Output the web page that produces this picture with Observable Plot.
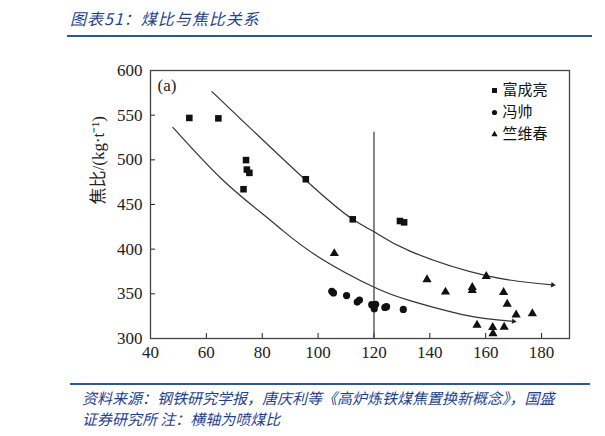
<!DOCTYPE html>
<html><head><meta charset="utf-8">
<script src="https://cdn.jsdelivr.net/npm/d3@7"></script>
<script src="https://cdn.jsdelivr.net/npm/@observablehq/plot@0.6"></script>
<style>
body{margin:0;width:605px;height:436px;background:#fff;position:relative;overflow:hidden;font-family:"Noto Sans CJK SC",sans-serif}
#title{position:absolute;left:70px;top:6px;font-size:16px;font-style:italic;color:#1f3f8f;letter-spacing:1px;white-space:nowrap}
#rule1{position:absolute;left:67px;top:35px;width:525px;height:2px;background:#2b55a6}
#chart{position:absolute;left:0;top:40px}
#rule2{position:absolute;left:70px;top:383px;width:520px;height:2px;background:#2b55a6}
#note{position:absolute;left:82px;top:387px;font-size:15px;line-height:21px;font-style:italic;color:#1f3f8f;white-space:nowrap}
</style></head><body>
<div id="title">图表51：煤比与焦比关系</div>
<div id="rule1"></div>
<div id="chart"></div>
<div id="rule2"></div>
<div id="note">资料来源：钢铁研究学报，唐庆利等《高炉炼铁煤焦置换新概念》，国盛<br>证券研究所 注：横轴为喷煤比</div>
<script>
// ---- data ----
const xTicks = [40, 60, 80, 100, 120, 140, 160, 180];
const yTicks = [300, 350, 400, 450, 500, 550, 600];
const seriesNames = ["富成亮", "冯帅", "竺维春"];

const fuX = [53.9, 64.3, 74.2, 74.5, 75.4, 73.3, 95.6, 112.4, 129.3, 130.8];
const fuY = [546.9, 546.4, 499.7, 489.1, 485.4, 467.1, 478.3, 433.4, 431.5, 430.0];

const fengX = [104.9, 105.5, 110.2, 114.0, 114.8, 119.2, 120.6, 120.1, 123.9, 124.5, 130.5];
const fengY = [352.8, 351.0, 348.0, 340.8, 343.0, 337.9, 338.2, 333.4, 334.8, 335.6, 332.6];

const zhuX = [105.8, 139.0, 145.6, 155.2, 155.2, 160.2, 166.4, 167.7, 170.9, 176.7, 156.9, 162.5, 166.6, 162.6];
const zhuY = [395.2, 366.0, 352.1, 357.3, 354.0, 369.7, 351.7, 338.6, 326.6, 328.0, 314.9, 312.4, 312.7, 305.6];

const upperX = [62, 95.5, 112.4, 120.1, 132.9, 160.2, 184.0];
const upperY = [576.4, 477.5, 433.4, 419.4, 397.8, 370.4, 360.0];
const lowerX = [48, 65, 79.3, 87.6, 100.7, 120.1, 132.9, 153.1, 170.0];
const lowerY = [536.3, 480, 441.6, 420.2, 390.2, 357.3, 342.4, 325.8, 319.2];

const dividerX = 120;
const dividerTop = 531;
const yLabel = "焦比/(kg·t⁻¹)";
const panelTag = "(a)";

// ---- tables ----
const pts = (xs, ys) => xs.map((x, i) => ({x, y: ys[i]}));
const fu = pts(fuX, fuY), feng = pts(fengX, fengY), zhu = pts(zhuX, zhuY);
const upper = pts(upperX, upperY), lower = pts(lowerX, lowerY);
const symbols = ["square", "circle", "triangle2"];
const legendR = [2.8, 2.6, 3.0];
const sym = {fill: "#111", stroke: "none"};

const legendMarks = seriesNames.flatMap((name, i) => [
  Plot.dot([name], {frameAnchor: "top-right", dx: -75, dy: 20 + i * 22, symbol: symbols[i], r: legendR[i], fill: "#111"}),
  Plot.text([name], {frameAnchor: "top-right", text: d => d, dx: -67, dy: 20 + i * 22, textAnchor: "start", lineAnchor: "middle",
    fontFamily: '"Noto Sans CJK SC", sans-serif', fontSize: 15, fill: "#111"})
]);

const chart = Plot.plot({
  width: 605, height: 340,
  marginLeft: 150, marginRight: 36, marginTop: 30, marginBottom: 42,
  style: {fontFamily: '"Liberation Serif", "DejaVu Serif", serif', fontSize: "17px", color: "#222", background: "transparent"},
  x: {domain: [40, 190], ticks: xTicks, label: null, tickSize: -5, tickPadding: 12},
  y: {domain: [300, 600], ticks: yTicks, label: null, tickSize: -5, tickPadding: 13},
  marks: [
    Plot.frame({stroke: "#444", strokeWidth: 1.3}),
    Plot.line(upper, {x: "x", y: "y", curve: "natural", stroke: "#333", strokeWidth: 1.2}),
    Plot.line(lower, {x: "x", y: "y", curve: "natural", stroke: "#333", strokeWidth: 1.2}),
    Plot.dot([upper[upper.length - 1]], {x: "x", y: "y", symbol: "triangle2", r: 2.6, rotate: 98, fill: "#222"}),
    Plot.dot([lower[lower.length - 1]], {x: "x", y: "y", symbol: "triangle2", r: 2.6, rotate: 97, fill: "#222"}),
    Plot.ruleX([dividerX], {x: d => d, y1: 300, y2: dividerTop, stroke: "#444", strokeWidth: 1.3}),
    Plot.dot(fu, {x: "x", y: "y", symbol: "square", ...sym, r: 3.7}),
    Plot.dot(feng, {x: "x", y: "y", symbol: "circle", ...sym, r: 3.6}),
    Plot.dot(zhu, {x: "x", y: "y", symbol: "triangle2", ...sym, r: 4.4}),
    ...legendMarks,
    Plot.text([panelTag], {frameAnchor: "top-left", text: d => d, dx: 7, dy: 15, textAnchor: "start", lineAnchor: "middle", fontSize: 17, fill: "#222"}),
    Plot.text([yLabel], {frameAnchor: "left", text: d => d, dx: -52, rotate: -90, lineAnchor: "middle", fontSize: 17, fill: "#222",
      fontFamily: '"Liberation Serif", "Noto Sans CJK SC", serif'})
  ]
});
document.getElementById("chart").appendChild(chart);
</script>
</body></html>
